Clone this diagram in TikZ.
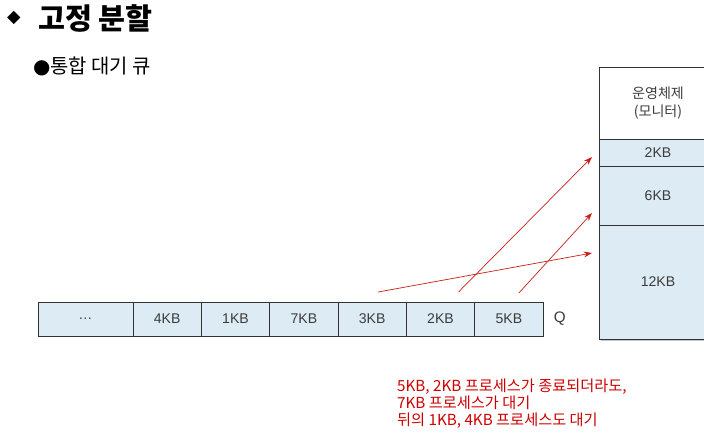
\documentclass[tikz,border=0pt]{standalone}
\usepackage{fontspec}
\setmainfont{Liberation Sans}
\newfontfamily\kor{Noto Sans CJK KR}
\newfontfamily\sym{DejaVu Sans}
\usetikzlibrary{positioning,fit,backgrounds,shadows,calc,arrows.meta}
\definecolor{cellBlue}{RGB}{221,235,244}
\definecolor{noteRed}{RGB}{204,0,0}
\definecolor{arrowRed}{RGB}{200,30,20}
\definecolor{labelGray}{RGB}{60,60,60}
\definecolor{edgeGray}{RGB}{50,50,50}
\tikzset{
  qcell/.style={draw=edgeGray,line width=0.8pt,fill=cellBlue,minimum width=2.05cm,minimum height=1.02cm,
                inner sep=0pt,outer sep=0pt,font=\fontsize{12}{14}\selectfont,text=labelGray},
  mcell/.style={draw=edgeGray,line width=0.8pt,fill=cellBlue,minimum width=3.54cm,inner sep=0pt,outer sep=0pt,
                font=\fontsize{12}{14}\selectfont,text=labelGray,align=center},
  arr/.style={-{Stealth[length=7pt,width=5pt]},arrowRed,line width=0.6pt},
}
\begin{document}
\begin{tikzpicture}[x=0.03cm,y=-0.03cm,node distance=0pt]
  \useasboundingbox (0,0) rectangle (704,437);

  \node[anchor=west,font=\sym\fontsize{15}{17}\selectfont] (dia) at (3,18) {◆};
  \node[anchor=west,font=\kor\bfseries\fontsize{25}{28}\selectfont] (title) at (34,18) {고정 분할};
  \node[anchor=west,font=\fontsize{17}{20}\selectfont] (sub) at (29,66) {{\sym ●}{\kor 통합 대기 큐}};

  \node[qcell,minimum width=2.85cm] (qdots) at (85.5,319) {\ldots};
  \node[qcell,right=of qdots] (q4) {4KB};
  \node[qcell,right=of q4] (q1) {1KB};
  \node[qcell,right=of q1] (q7) {7KB};
  \node[qcell,right=of q7] (q3) {3KB};
  \node[qcell,right=of q3] (q2) {2KB};
  \node[qcell,right=of q2] (q5) {5KB};
  \node[font=\fontsize{13}{15}\selectfont,text=labelGray,right=0.2cm of q5] (qlabel) {Q};

  \node[mcell,fill=white,minimum height=2.16cm,font=\kor\fontsize{12}{16}\selectfont] (os) at (658,103)
    {운영체제\\(모니터)};
  \node[mcell,minimum height=0.81cm,below=of os] (m2) {2KB};
  \node[mcell,minimum height=1.77cm,below=of m2] (m6) {6KB};
  \node[mcell,minimum height=3.42cm,below=of m6] (m12) {12KB};
  \begin{scope}[on background layer]
    \node[fit=(os)(m12),inner sep=0pt,fill=white,
          drop shadow={opacity=0.45,shadow xshift=2pt,shadow yshift=-2pt}] (mem) {};
  \end{scope}

  \coordinate (t12) at ($(q3.north)+(6,-10)$);
  \coordinate (t2) at ($(q2.north)+(18,-10)$);
  \coordinate (t6) at ($(q5.north)+(10,-9)$);
  \draw[arr] (t12) -- ($(m12.west)+(-7,-29)$);
  \draw[arr] (t2) -- ($(m2.west)+(-7,4.5)$);
  \draw[arr] (t6) -- ($(m6.west)+(-7,17.5)$);

  \node[anchor=north west,align=left,text=noteRed,font=\kor\fontsize{13}{14.5}\selectfont] (note) at (393,375)
    {5KB, 2KB 프로세스가 종료되더라도,\\7KB 프로세스가 대기\\뒤의 1KB, 4KB 프로세스도 대기};
\end{tikzpicture}
\end{document}
